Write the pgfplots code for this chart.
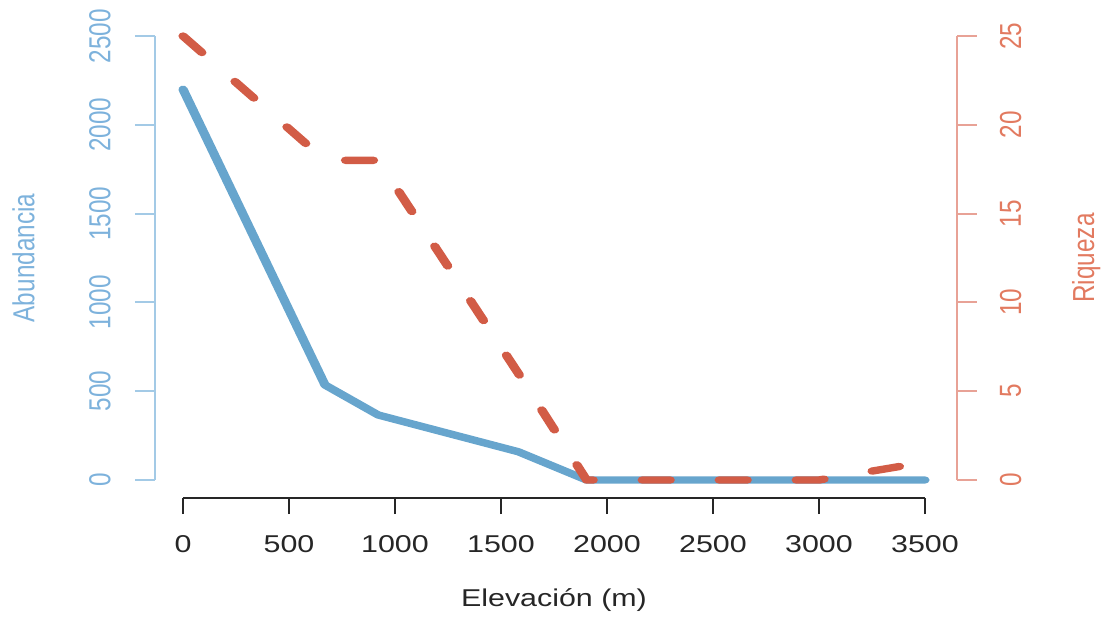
\documentclass[border=0pt]{standalone}
\usepackage{fontspec}
\setmainfont{Liberation Sans}
\usepackage{pgfplots}
\pgfplotsset{compat=1.18}

\definecolor{abLine}{RGB}{103,165,205}
\definecolor{abAxis}{RGB}{163,202,230}
\definecolor{abText}{RGB}{125,178,220}
\definecolor{riLine}{RGB}{210,92,70}
\definecolor{riAxis}{RGB}{232,162,150}
\definecolor{riText}{RGB}{226,122,96}

% one px of the reference = 0.5pt; the reference is squashed vertically,
% so the whole plot is drawn unsquashed and scaled by 0.8 in y
\pgfplotsset{
  rbox/.style={
    scale only axis, width=400.8pt, height=277.5pt,
    at={(0,0)}, anchor=south west,
    xmin=-132.1, xmax=3649.5, clip=false,
    hide x axis,
    scaled y ticks=false,
    /pgf/number format/.cd, 1000 sep={}, assume math mode=true, /pgfplots/.cd,
    tick label style={font=\fontsize{15.2}{18}\selectfont},
    label style={font=\fontsize{15.2}{18}\selectfont},
  },
}

\begin{document}
\begin{tikzpicture}
  \path[use as bounding box] (-77.5pt,-68.5pt) rectangle (474.5pt,240pt);

  \begin{scope}[transform canvas={yscale=0.8}]
  % abundance, left axis
  \begin{axis}[rbox,
      ymin=0, ymax=2500,
      axis y line*=left,
      tick align=outside, major tick length=10pt,
      ytick={0,500,...,2500},
      y axis line style={abAxis, line width=1pt},
      ytick style={abAxis, line width=1.3pt},
      yticklabel style={abText, rotate=90, anchor=south, inner sep=0pt},
      yticklabel shift=12pt,
      ylabel={Abundancia},
      ylabel style={abText, at={([xshift=-60pt]axis description cs:0,0.5)},
        anchor=south, inner sep=0pt},
    ]
    \addplot[abLine, line width=4.6pt, line cap=round, line join=round] coordinates {
      (0,2200) (670,535) (921,366) (1582,159) (1904,0)
      (2200,0) (2600,0) (3000,0) (3500,0)
    };
  \end{axis}

  % richness, right axis
  \begin{axis}[rbox,
      ymin=0, ymax=25,
      axis y line*=right,
      tick align=outside, major tick length=10pt,
      ytick={0,5,...,25},
      y axis line style={riAxis, line width=1pt},
      ytick style={riAxis, line width=1.3pt},
      yticklabel style={riText, rotate=90, anchor=north, inner sep=0pt},
      yticklabel shift=11.5pt,
      ylabel={Riqueza},
      ylabel style={riText, at={([xshift=57.5pt]axis description cs:1,0.5)},
        anchor=north, inner sep=0pt},
    ]
    \addplot[riLine, line width=4.6pt, line cap=round, line join=round,
             dash pattern=on 14pt off 24.5pt] coordinates {
      (0,25) (670,18) (921,18) (1582,6) (1904,0)
      (2200,0) (2600,0) (3000,0) (3500,1)
    };
  \end{axis}

  % elevation, bottom axis
  \begin{axis}[
      scale only axis, width=371pt, height=10pt,
      at={(14pt,-11.25pt)}, anchor=south west,
      xmin=0, xmax=3500, ymin=0, ymax=1,
      axis x line*=bottom, hide y axis,
      tick align=outside, major tick length=10pt,
      xtick={0,500,...,3500},
      x axis line style={black!85, line width=1.3pt},
      xtick style={black!85, line width=1pt},
      /pgf/number format/.cd, 1000 sep={}, assume math mode=true, /pgfplots/.cd,
      tick label style={font=\fontsize{15.2}{18}\selectfont},
      xticklabel style={black!85, anchor=north, inner sep=0pt},
      xticklabel shift=13.1pt,
      xlabel={Elevación (m)},
      xlabel style={black!85, font=\fontsize{15.2}{18}\selectfont,
        at={([yshift=-56.25pt]axis description cs:0.5,0)},
        anchor=north, inner sep=0pt},
    ]
  \end{axis}
  \end{scope}
\end{tikzpicture}
\end{document}
